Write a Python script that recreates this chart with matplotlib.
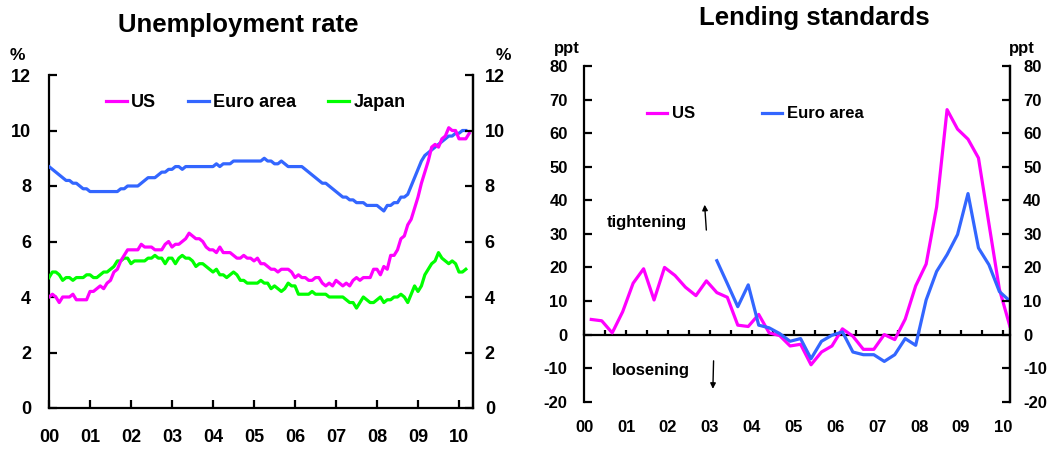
import matplotlib
matplotlib.use('Agg')
import matplotlib.pyplot as plt
from matplotlib.transforms import blended_transform_factory

plt.rcParams['font.family'] = ['Liberation Sans', 'DejaVu Sans']
plt.rcParams['font.weight'] = 'bold'
plt.rcParams['axes.unicode_minus'] = False

MAGENTA = '#FF00FF'
BLUE = '#3366FF'
GREEN = '#00FF00'

# ---------------- Data: unemployment rate (%), monthly from Jan 2000 ----------------
us_unemp = [
    4.0, 4.1, 4.0, 3.8, 4.0, 4.0, 4.0, 4.1, 3.9, 3.9, 3.9, 3.9,   # 2000
    4.2, 4.2, 4.3, 4.4, 4.3, 4.5, 4.6, 4.9, 5.0, 5.3, 5.5, 5.7,   # 2001
    5.7, 5.7, 5.7, 5.9, 5.8, 5.8, 5.8, 5.7, 5.7, 5.7, 5.9, 6.0,   # 2002
    5.8, 5.9, 5.9, 6.0, 6.1, 6.3, 6.2, 6.1, 6.1, 6.0, 5.8, 5.7,   # 2003
    5.7, 5.6, 5.8, 5.6, 5.6, 5.6, 5.5, 5.4, 5.4, 5.5, 5.4, 5.4,   # 2004
    5.3, 5.4, 5.2, 5.2, 5.1, 5.0, 5.0, 4.9, 5.0, 5.0, 5.0, 4.9,   # 2005
    4.7, 4.8, 4.7, 4.7, 4.6, 4.6, 4.7, 4.7, 4.5, 4.4, 4.5, 4.4,   # 2006
    4.6, 4.5, 4.4, 4.5, 4.4, 4.6, 4.7, 4.6, 4.7, 4.7, 4.7, 5.0,   # 2007
    5.0, 4.8, 5.1, 5.0, 5.5, 5.5, 5.7, 6.1, 6.2, 6.6, 6.8, 7.2,   # 2008
    7.6, 8.1, 8.5, 8.9, 9.4, 9.5, 9.4, 9.7, 9.8, 10.1, 10.0, 10.0,  # 2009
    9.7, 9.7, 9.7, 9.9,                                           # 2010
]
euro_unemp = [
    8.7, 8.6, 8.5, 8.4, 8.3, 8.2, 8.2, 8.1, 8.1, 8.0, 7.9, 7.9,   # 2000
    7.8, 7.8, 7.8, 7.8, 7.8, 7.8, 7.8, 7.8, 7.8, 7.9, 7.9, 8.0,   # 2001
    8.0, 8.0, 8.0, 8.1, 8.2, 8.3, 8.3, 8.3, 8.4, 8.5, 8.5, 8.6,   # 2002
    8.6, 8.7, 8.7, 8.6, 8.7, 8.7, 8.7, 8.7, 8.7, 8.7, 8.7, 8.7,   # 2003
    8.7, 8.8, 8.7, 8.8, 8.8, 8.8, 8.9, 8.9, 8.9, 8.9, 8.9, 8.9,   # 2004
    8.9, 8.9, 8.9, 9.0, 8.9, 8.9, 8.8, 8.8, 8.9, 8.8, 8.7, 8.7,   # 2005
    8.7, 8.7, 8.7, 8.6, 8.5, 8.4, 8.3, 8.2, 8.1, 8.1, 8.0, 7.9,   # 2006
    7.8, 7.7, 7.6, 7.6, 7.5, 7.5, 7.4, 7.4, 7.4, 7.3, 7.3, 7.3,   # 2007
    7.3, 7.2, 7.1, 7.3, 7.3, 7.4, 7.4, 7.6, 7.6, 7.7, 8.0, 8.3,   # 2008
    8.6, 8.9, 9.1, 9.2, 9.3, 9.4, 9.5, 9.6, 9.7, 9.8, 9.8, 9.9,   # 2009
    9.9, 10.0, 10.0,                                              # 2010
]
japan_unemp = [
    4.7, 4.9, 4.9, 4.8, 4.6, 4.7, 4.7, 4.6, 4.7, 4.7, 4.7, 4.8,   # 2000
    4.8, 4.7, 4.7, 4.8, 4.9, 4.9, 5.0, 5.1, 5.3, 5.3, 5.4, 5.4,   # 2001
    5.2, 5.3, 5.3, 5.3, 5.3, 5.4, 5.4, 5.5, 5.4, 5.4, 5.2, 5.4,   # 2002
    5.4, 5.2, 5.4, 5.5, 5.4, 5.4, 5.3, 5.1, 5.2, 5.2, 5.1, 5.0,   # 2003
    4.9, 5.0, 4.8, 4.8, 4.7, 4.8, 4.9, 4.8, 4.6, 4.6, 4.5, 4.5,   # 2004
    4.5, 4.5, 4.6, 4.5, 4.5, 4.3, 4.4, 4.3, 4.2, 4.3, 4.5, 4.4,   # 2005
    4.4, 4.1, 4.1, 4.1, 4.1, 4.2, 4.1, 4.1, 4.1, 4.1, 4.0, 4.0,   # 2006
    4.0, 4.0, 4.0, 3.9, 3.8, 3.8, 3.6, 3.8, 4.0, 3.9, 3.8, 3.8,   # 2007
    3.9, 4.0, 3.8, 3.9, 3.9, 4.0, 4.0, 4.1, 4.0, 3.8, 4.1, 4.4,   # 2008
    4.2, 4.4, 4.8, 5.0, 5.2, 5.3, 5.6, 5.4, 5.3, 5.2, 5.3, 5.2,   # 2009
    4.9, 4.9, 5.0,                                                # 2010
]
unemp_labels = ['US', 'Euro area', 'Japan']
year_labels = ['00', '01', '02', '03', '04', '05', '06', '07', '08', '09', '10']
years = list(range(2000, 2011))
unemp_yticks = [0, 2, 4, 6, 8, 10, 12]

# ---------------- Data: lending standards (ppt), quarterly from Q1 2000 ----------------
lend_us = [
    4.5, 4.1, 0.5, 6.8,        # 2000
    15.3, 19.6, 10.3, 20.0,    # 2001
    17.6, 14.1, 11.6, 16.0,    # 2002
    12.5, 11.1, 2.8, 2.4,      # 2003
    6.0, 0.5, -0.3, -3.4,      # 2004
    -2.9, -9.0, -5.2, -3.4,    # 2005
    1.7, -0.5, -4.4, -4.4,     # 2006
    0.0, -1.5, 4.6, 14.5,      # 2007
    21.0, 38.0, 67.0, 61.2,    # 2008
    58.2, 52.6, 33.0, 13.5,    # 2009
    2.5,                       # 2010
]
lend_euro = [
    None, None, None, None,    # 2000
    None, None, None, None,    # 2001
    None, None, None, None,    # 2002
    22.0, 15.2, 8.3, 14.8,     # 2003
    2.8, 2.0, 0.3, -2.0,       # 2004
    -1.2, -7.2, -2.0, -0.2,    # 2005
    0.8, -5.2, -6.0, -6.0,     # 2006
    -8.0, -6.0, -1.2, -3.2,    # 2007
    10.3, 18.8, 23.8, 29.8,    # 2008
    42.0, 25.8, 20.8, 12.8,    # 2009
    10.0,                      # 2010
]
lend_labels = ['US', 'Euro area']
lend_yticks = [-20, -10, 0, 10, 20, 30, 40, 50, 60, 70, 80]

# ---------------- Figure ----------------
W, H = 1059, 450
fig = plt.figure(figsize=(W / 100, H / 100), dpi=100)


def box(l, t, r, b):
    return [l / W, 1 - b / H, (r - l) / W, (b - t) / H]


SPW = 1.6
LW = 2.3

# ===== Left chart =====
ax1 = fig.add_axes(box(49, 75, 473, 408))
x_m = lambda n: [2000 + i / 12 for i in range(n)]
ax1.plot(x_m(len(euro_unemp)), euro_unemp, color=BLUE, lw=LW, label=unemp_labels[1], zorder=3)
ax1.plot(x_m(len(japan_unemp)), japan_unemp, color=GREEN, lw=LW, label=unemp_labels[2], zorder=3)
ax1.plot(x_m(len(us_unemp)), us_unemp, color=MAGENTA, lw=LW, label=unemp_labels[0], zorder=4)
ax1.set_xlim(2000, 2000 + 424 / 41)
ax1.set_ylim(0, 12)
ax1.spines['top'].set_visible(False)
for s in ['left', 'right', 'bottom']:
    ax1.spines[s].set_linewidth(SPW)
ax1.set_xticks(years)
ax1.set_xticklabels(year_labels)
ax1.set_yticks(unemp_yticks)
ax1.tick_params(axis='x', direction='in', length=6, width=SPW, pad=15, labelsize=13)
ax1.tick_params(axis='y', direction='in', length=6, width=SPW, pad=13, labelsize=13)
ax1r = ax1.twinx()
ax1r.set_ylim(0, 12)
ax1r.set_yticks(unemp_yticks)
ax1r.tick_params(axis='y', direction='in', length=6, width=SPW, pad=8.5, labelsize=13)
for s in ['top', 'left', 'bottom']:
    ax1r.spines[s].set_visible(False)
ax1r.spines['right'].set_linewidth(SPW)

handles, labels = ax1.get_legend_handles_labels()
order = [2, 0, 1]
ax1.legend([handles[i] for i in order], [labels[i] for i in order],
           loc='center left', bbox_to_anchor=(57 / 424, (408 - 102.7) / 333),
           ncol=3, frameon=False, fontsize=13, handlelength=1.15,
           handletextpad=0.25, columnspacing=1.75, borderpad=0, borderaxespad=0)

fig.text(238 / W, 1 - 32 / H, 'Unemployment rate', ha='center', va='baseline',
         fontsize=18.5, fontweight='bold')
fig.text(17.5 / W, 1 - 56 / H, '%', ha='center', va='center', fontsize=12.5)
fig.text(503.5 / W, 1 - 56 / H, '%', ha='center', va='center', fontsize=12.5)

# ===== Right chart =====
ax2 = fig.add_axes(box(584.3, 66, 1010, 401.7))
x_q = [2000 + 1 / 6 + k / 4 for k in range(len(lend_us))]
eu_x = [x for x, v in zip(x_q, lend_euro) if v is not None]
eu_v = [v for v in lend_euro if v is not None]
ax2.plot(x_q, lend_us, color=MAGENTA, lw=LW, label=lend_labels[0], zorder=3)
ax2.plot(eu_x, eu_v, color=BLUE, lw=LW, label=lend_labels[1], zorder=4)
ax2.set_xlim(2000, 2010.17)
ax2.set_ylim(-20, 80)
ax2.spines['top'].set_visible(False)
ax2.spines['bottom'].set_position(('data', 0))
for s in ['left', 'right', 'bottom']:
    ax2.spines[s].set_linewidth(SPW)
ax2.set_xticks([2000 + k / 2 for k in range(21)])
ax2.tick_params(axis='x', direction='in', length=3.5, width=SPW, labelbottom=False)
ax2.set_yticks(lend_yticks)
ax2.tick_params(axis='y', direction='in', length=6, width=SPW, pad=12, labelsize=12)
ax2r = ax2.twinx()
ax2r.set_ylim(-20, 80)
ax2r.set_yticks(lend_yticks)
ax2r.tick_params(axis='y', direction='in', length=6, width=SPW, pad=9.5, labelsize=12)
for s in ['top', 'left', 'bottom']:
    ax2r.spines[s].set_visible(False)
ax2r.spines['right'].set_linewidth(SPW)

trans = blended_transform_factory(ax2.transData, ax2.transAxes)
for yr, lab in zip(years, year_labels):
    ax2.text(yr, -0.077, lab, transform=trans, ha='center', va='center', fontsize=12)

ax2.legend(loc='center left', bbox_to_anchor=((647 - 584.3) / 425.7, (401.7 - 114) / 335.7),
           ncol=2, frameon=False, fontsize=12, handlelength=1.2,
           handletextpad=0.3, columnspacing=4.0, borderpad=0, borderaxespad=0)

ax2.text(2000.54, 33.3, 'tightening', ha='left', va='center', fontsize=12)
ax2.annotate('', xy=(2002.87, 39.5), xytext=(2002.92, 30.3),
             arrowprops=dict(arrowstyle='-|>', color='black', lw=1, mutation_scale=8))
ax2.text(2000.66, -10.6, 'loosening', ha='left', va='center', fontsize=12)
ax2.annotate('', xy=(2003.07, -17.0), xytext=(2003.09, -7.0),
             arrowprops=dict(arrowstyle='-|>', color='black', lw=1, mutation_scale=8))

fig.text(814 / W, 1 - 25 / H, 'Lending standards', ha='center', va='baseline',
         fontsize=18.5, fontweight='bold')
fig.text(567 / W, 1 - 48 / H, 'ppt', ha='center', va='center', fontsize=12)
fig.text(1022 / W, 1 - 48 / H, 'ppt', ha='center', va='center', fontsize=12)

fig.savefig('out.png', dpi=100)
